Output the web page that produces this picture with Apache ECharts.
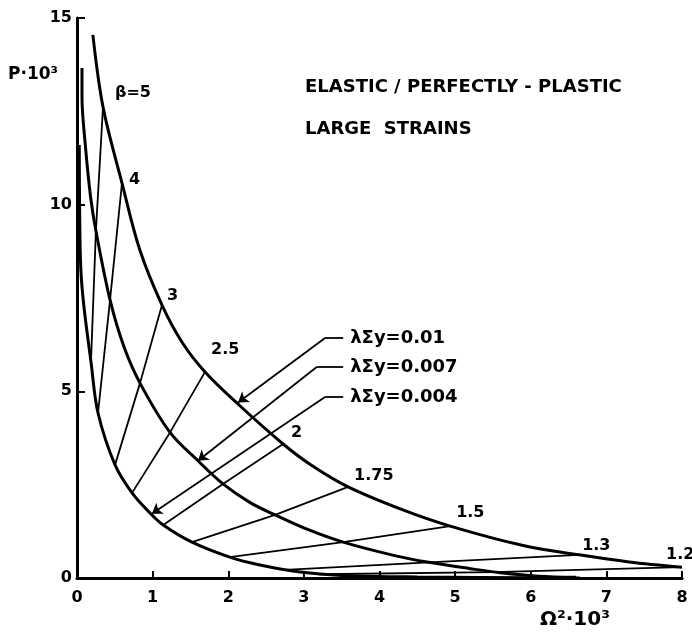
<!DOCTYPE html>
<html>
<head>
<meta charset="UTF-8">
<script src="https://cdn.jsdelivr.net/npm/echarts@6/dist/echarts.min.js"></script>
<style>
  html, body { margin: 0; padding: 0; background: #fff; }
  #chart { width: 692px; height: 636px; }
</style>
</head>
<body>
<div id="chart"></div>
<script>
// curves P·10^3 vs Omega^2·10^3, one per lambda*Sigma_y
var curve001 = [[0.21,14.55],[0.344,12.62],[0.595,10.58],[0.83,8.79],[1.124,7.31],[1.40,6.28],
                [1.693,5.52],[2.15,4.62],[2.725,3.59],[3.10,3.02],[3.585,2.44],[4.30,1.83],
                [4.934,1.39],[5.90,0.87],[6.64,0.62],[7.30,0.43],[8.0,0.29]];
var curve0007 = [[0.066,13.66],[0.066,12.9],[0.11,11.6],[0.18,10.2],[0.25,9.3],[0.437,7.45],
                 [0.62,6.2],[0.833,5.22],[1.23,3.9],[1.6,3.14],[1.93,2.52],[2.29,2.02],[2.62,1.69],
                 [3.05,1.30],[3.52,0.96],[4.2,0.6],[4.65,0.42],[5.2,0.25],[5.6,0.14],[6.1,0.05],[6.6,0.02]];
var curve0004 = [[0.03,11.6],[0.035,9.8],[0.05,8.3],[0.09,7.3],[0.185,5.79],[0.278,4.42],
                 [0.503,3.03],[0.728,2.28],[0.966,1.74],[1.14,1.42],[1.52,0.96],[2.02,0.56],
                 [2.42,0.35],[2.95,0.16],[3.5,0.07],[4.5,0.03],[6.65,0.0]];

// constant-beta lines: point on 0.01, 0.007, 0.004 curves
var betaNames = ['β=5', '4', '3', '2.5', '2', '1.75', '1.5', '1.3', '1.2'];
var betaLines = [
  [[0.344,12.62],[0.25,9.3],[0.185,5.79]],
  [[0.595,10.58],[0.437,7.45],[0.278,4.42]],
  [[1.124,7.31],[0.833,5.22],[0.503,3.03]],
  [[1.693,5.52],[1.23,3.9],[0.728,2.28]],
  [[2.725,3.59],[1.93,2.52],[1.14,1.42]],
  [[3.585,2.44],[2.62,1.69],[1.52,0.96]],
  [[4.934,1.39],[3.52,0.96],[2.02,0.56]],
  [[6.64,0.62],[4.65,0.42],[2.75,0.22]],
  [[8.0,0.29],[5.5,0.16],[3.2,0.1]]
];
var betaLabelOffsets = [[7,-14],[2,-3],[0,-9],[1,-22],[3,-11],[1,-11],[1,-13],[-2,-9],[-21,-12]];

// leader lines to the curves: label end, bend, arrow tip
var leaderNames = ['λΣy=0.01', 'λΣy=0.007', 'λΣy=0.004'];
var leaders = [
  [[3.52,6.43],[3.28,6.43],[2.13,4.70]],
  [[3.52,5.65],[3.17,5.65],[1.60,3.14]],
  [[3.52,4.85],[3.28,4.85],[0.99,1.72]]
];

var xTicks = [0, 8, 1];
var yTicks = [0, 15, 5];

var chart = echarts.init(document.getElementById('chart'));
var font = 'DejaVu Sans';
var series = [];

[curve001, curve0007, curve0004].forEach(function (c) {
  series.push({
    type: 'line', data: c, smooth: 0.35, symbol: 'none',
    lineStyle: { color: '#000', width: 3 }, z: 3
  });
});

betaLines.forEach(function (pts) {
  series.push({
    type: 'line', data: pts, symbol: 'none',
    lineStyle: { color: '#000', width: 1.8 }, z: 2
  });
});

function blackLabel(text, size, offset) {
  return { show: true, position: 'right', formatter: text, offset: offset, opacity: 1,
           color: '#000', fontFamily: font, fontWeight: 'bold', fontSize: size };
}

series.push({
  type: 'scatter', symbolSize: 0, silent: true,
  itemStyle: { opacity: 1 },
  data: betaLines.map(function (pts, i) {
    return { value: pts[0], label: blackLabel(betaNames[i], 16, betaLabelOffsets[i]) };
  }),
  z: 5
});

// horizontal stubs
series.push({
  type: 'lines', coordinateSystem: 'cartesian2d',
  symbol: 'none',
  lineStyle: { color: '#000', width: 1.8, opacity: 1 },
  data: leaders.map(function (l) { return { coords: [l[0], l[1]] }; }),
  z: 4
});
// diagonal with arrow head
series.push({
  type: 'lines', coordinateSystem: 'cartesian2d',
  symbol: ['none', 'arrow'], symbolSize: 10,
  lineStyle: { color: '#000', width: 1.8, opacity: 1 },
  itemStyle: { color: '#000' },
  data: leaders.map(function (l) { return { coords: [l[1], l[2]] }; }),
  z: 4
});

series.push({
  type: 'scatter', symbolSize: 0, silent: true,
  itemStyle: { opacity: 1 },
  data: leaders.map(function (l, i) {
    return { value: l[0], label: blackLabel(leaderNames[i], 18, [2, 0]) };
  }),
  z: 5
});

chart.setOption({
  animation: false,
  backgroundColor: '#fff',
  grid: { left: 77, right: 10, top: 18, bottom: 58 },
  xAxis: {
    type: 'value', min: xTicks[0], max: xTicks[1], interval: xTicks[2],
    splitLine: { show: false },
    axisLine: { onZero: false, lineStyle: { color: '#000', width: 3 } },
    axisTick: { inside: true, length: 7, lineStyle: { color: '#000', width: 2 } },
    axisLabel: { color: '#000', fontFamily: font, fontWeight: 'bold', fontSize: 16, margin: 12 }
  },
  yAxis: {
    type: 'value', min: yTicks[0], max: yTicks[1], interval: yTicks[2],
    splitLine: { show: false },
    axisLine: { onZero: false, lineStyle: { color: '#000', width: 3 } },
    axisTick: { inside: true, length: 8, lineStyle: { color: '#000', width: 2 } },
    axisLabel: { color: '#000', fontFamily: font, fontWeight: 'bold', fontSize: 16, margin: 5 }
  },
  graphic: [
    { type: 'text', left: 8, top: 66, style: { text: 'P·10³', font: 'bold 17px ' + font, fill: '#000' } },
    { type: 'text', left: 540, top: 610, style: { text: 'Ω²·10³', font: 'bold 20px ' + font, fill: '#000' } },
    { type: 'text', left: 305, top: 78, style: { text: 'ELASTIC / PERFECTLY - PLASTIC', font: 'bold 18px ' + font, fill: '#000' } },
    { type: 'text', left: 305, top: 120, style: { text: 'LARGE  STRAINS', font: 'bold 18px ' + font, fill: '#000' } }
  ],
  series: series
});
</script>
</body>
</html>
